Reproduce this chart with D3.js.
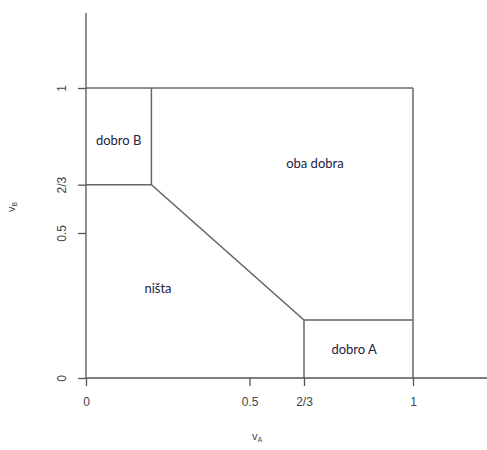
<!DOCTYPE html>
<html>
<head>
<meta charset="utf-8">
<script src="https://cdn.jsdelivr.net/npm/d3@7"></script>
<style>
  body { margin: 0; background: #fff; }
  .tick text { font-family: "Liberation Sans", Arial, sans-serif; font-size: 12px; fill: #444; }
</style>
</head>
<body>
<svg id="chart"></svg>
<script>
// tick positions and labels
const xTicks = [0, 0.5, 2/3, 1];
const xTickLabels = ["0", "0.5", "2/3", "1"];
const yTicks = [0, 0.5, 2/3, 1];
const yTickLabels = ["0", "0.5", "2/3", "1"];

// region boundaries (vA, vB)
const boundaries = [
  [[0, 1], [1, 1]],
  [[1, 1], [1, 0]],
  [[0.2, 1], [0.2, 2/3]],
  [[0, 2/3], [0.2, 2/3], [2/3, 0.2], [1, 0.2]],
  [[2/3, 0.2], [2/3, 0]]
];

const regionNames = ["dobro B", "oba dobra", "ništa", "dobro A"];
const regionVA = [0.10, 0.70, 0.22, 0.82];
const regionVB = [0.82, 0.74, 0.31, 0.10];

const width = 487, height = 450;
const svg = d3.select('#chart').attr('width', width).attr('height', height);

const x = d3.scaleLinear().domain([0, 1]).range([86, 413]);
const y = d3.scaleLinear().domain([0, 1]).range([378, 88]);

// axis lines, longer than the data range
svg.append('line')
  .attr('x1', x(0)).attr('x2', width)
  .attr('y1', y(0)).attr('y2', y(0))
  .attr('stroke', '#555').attr('stroke-width', 1.3);
svg.append('line')
  .attr('x1', x(0)).attr('x2', x(0))
  .attr('y1', 13).attr('y2', y(0))
  .attr('stroke', '#555').attr('stroke-width', 1.3);

// axes (ticks only)
const xAxis = svg.append('g').attr('transform', `translate(0,${y(0)})`)
  .call(d3.axisBottom(x).tickValues(xTicks).tickFormat((d, i) => xTickLabels[i]).tickSize(8).tickPadding(10).tickSizeOuter(0));
const yAxis = svg.append('g').attr('transform', `translate(${x(0)},0)`)
  .call(d3.axisLeft(y).tickValues(yTicks).tickFormat((d, i) => yTickLabels[i]).tickSize(8).tickPadding(10).tickSizeOuter(0));
svg.selectAll('.domain').remove();
svg.selectAll('.tick line').attr('stroke', '#555').attr('stroke-width', 1.3);
yAxis.selectAll('.tick text')
  .attr('text-anchor', 'middle')
  .attr('x', 0)
  .attr('transform', 'translate(-24,0) rotate(-90)')
  .attr('dy', '0.35em');
xAxis.selectAll('.tick text').attr('dy', '0.85em');

// boundaries
const line = d3.line().x(d => x(d[0])).y(d => y(d[1]));
svg.append('g').selectAll('path').data(boundaries).join('path')
  .attr('d', line)
  .attr('fill', 'none')
  .attr('stroke', '#666')
  .attr('stroke-width', 1.5);

// region labels
svg.append('g').selectAll('text').data(regionNames).join('text')
  .attr('x', (d, i) => x(regionVA[i]))
  .attr('y', (d, i) => y(regionVB[i]))
  .attr('text-anchor', 'middle')
  .attr('dy', '0.35em')
  .style('font-family', 'Lato, "Open Sans", sans-serif')
  .style('font-size', '13px')
  .style('fill', '#222244')
  .text(d => d);

// axis titles
const vA = svg.append('text').attr('x', 257).attr('y', 440)
  .attr('text-anchor', 'middle')
  .style('font-family', '"Liberation Sans", Arial, sans-serif').style('font-size', '11px').style('fill', '#444');
vA.append('tspan').text('v');
vA.append('tspan').attr('font-size', '7px').attr('dy', 2).text('A');

const vB = svg.append('text').attr('transform', 'translate(15,207) rotate(-90)')
  .attr('text-anchor', 'middle')
  .style('font-family', '"Liberation Sans", Arial, sans-serif').style('font-size', '11px').style('fill', '#444');
vB.append('tspan').text('v');
vB.append('tspan').attr('font-size', '7px').attr('dy', 2).text('B');
</script>
</body>
</html>
